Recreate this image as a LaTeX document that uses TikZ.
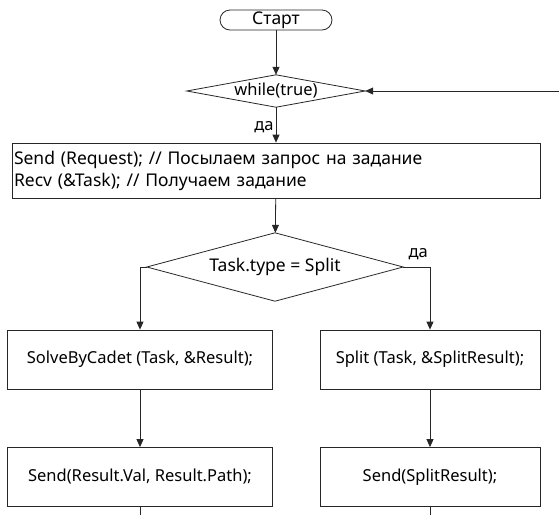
\documentclass[tikz,border=0pt]{standalone}
\usepackage{fontspec}
\setmainfont{Noto Sans}
\usetikzlibrary{arrows.meta}
\begin{document}
\begin{tikzpicture}[x=1pt,y=-1pt,
  font=\fontsize{16.5}{22}\selectfont,
  big/.style={font=\fontsize{17.5}{22}\selectfont},
  flow/.style={draw=black!85, line width=0.8pt},
  arr/.style={flow, -{Triangle[length=8pt,width=7pt]}},
  term/.style={flow, big, rounded corners=10pt, minimum width=112pt, minimum height=20pt, inner sep=0pt},
  cond/.style={rectangle, inner sep=0pt},
  proc/.style={flow, rectangle, inner sep=0pt},
  lbl/.style={inner sep=0pt}]
\useasboundingbox (0,0) rectangle (559,515);

% blocks
\node[term] (start) at (276,20) {Старт};
\node[cond, minimum width=178pt, minimum height=32pt] (loop) at (276,91) {while(true)};
\node[proc, big, minimum width=528pt, minimum height=55pt, text width=524pt, align=left] (req) at (276,170.5)
  {Send (Request); // Посылаем запрос на задание\\Recv (\&Task); // Получаем задание};
\node[cond, big, minimum width=256pt, minimum height=68pt] (type) at (275,267) {Task.type = Split};
\node[proc, minimum width=265pt, minimum height=59pt] (solve) at (140,359.5) {SolveByCadet (Task, \&Result);};
\node[proc, minimum width=220pt, minimum height=59pt] (split) at (430,359.5) {Split (Task, \&SplitResult);};
\node[proc, minimum width=265pt, minimum height=59pt] (sendres) at (140,477) {Send(Result.Val, Result.Path);};
\node[proc, minimum width=220pt, minimum height=59pt] (sendsplit) at (430,477) {Send(SplitResult);};

% decision outlines
\foreach \d in {loop,type}
  \draw[flow] (\d.north) -- (\d.east) -- (\d.south) -- (\d.west) -- cycle;

% loose ends
\coordinate (back) at (559,91);
\coordinate (endL) at (140,515);
\coordinate (endR) at (430,515);

% connectors
\draw[arr] (start) -- (loop);
\draw[arr] (loop) -- node[lbl, left=2pt, pos=0.55] {да} (req);
\draw[arr] (back) -- (loop.east);
\draw[arr] (req) -- (type);
\draw[arr] (type.west) -| (solve.north);
\draw[arr] (type.east) -| node[lbl, above=7pt, pos=0.28] {да} (split.north);
\draw[arr] (solve) -- (sendres);
\draw[arr] (split) -- (sendsplit);
\draw[flow] (sendres) -- (endL);
\draw[flow] (sendsplit) -- (endR);
\end{tikzpicture}
\end{document}
